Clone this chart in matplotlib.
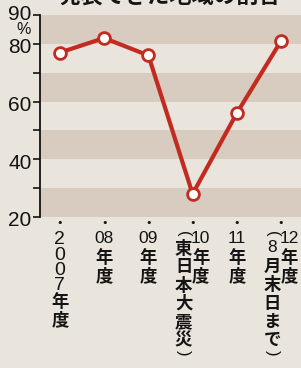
import re
import matplotlib
matplotlib.use("Agg")
import matplotlib.pyplot as plt
from matplotlib.transforms import blended_transform_factory, offset_copy

# ---- data ----
years = ["2007年度", "08年度", "09年度", "10年度", "11年度", "12年度"]
notes = ["", "", "", "東日本大震災", "", "8月末日まで"]
values = [77, 82, 76, 28, 56, 81]
yticks = [20, 40, 60, 80, 90]
title = "発表できた地域の割合"

W, H, DPI = 301, 368, 100
LIGHT = "#e9e4dc"
DARK = "#d7ccbf"
RED = "#c32a20"
INK = "#141414"
CJK = ["Noto Sans CJK JP", "DejaVu Sans"]
NUM = ["Liberation Sans", "DejaVu Sans"]

fig = plt.figure(figsize=(W / DPI, H / DPI), dpi=DPI, facecolor=LIGHT)
ax_left, ax_right = 40 / W, 1.0
ax_top_px, ax_bot_px = 15, 217
ax = fig.add_axes([ax_left, (H - ax_bot_px) / H, ax_right - ax_left,
                   (ax_bot_px - ax_top_px) / H])
ax.set_facecolor(LIGHT)

for lo in range(20, 90, 20):
    ax.axhspan(lo, lo + 10, color=DARK, lw=0, zorder=0)

x = list(range(len(values)))
ax.plot(x, values, color=RED, lw=3.0, zorder=3, solid_joinstyle="round",
        marker="o", markersize=8.5, markerfacecolor="white",
        markeredgecolor=RED, markeredgewidth=2.0)

ax.set_xlim(-0.45, 5.45)
ax.set_ylim(20, 90)
for s in ["top", "right", "bottom"]:
    ax.spines[s].set_visible(False)
ax.spines["left"].set_linewidth(1.3)
ax.spines["left"].set_color(INK)
ax.set_yticks(range(20, 91, 10))
ax.set_yticklabels([str(v) if v in yticks else "" for v in range(20, 91, 10)],
                   fontfamily=NUM, fontsize=15, color=INK)
ax.tick_params(axis="y", direction="out", length=5, width=1.2, pad=1,
               color=INK)
ax.set_xticks([])
# as in the print: 90 sits a little high, the others a little low
for lab, v in zip(ax.get_yticklabels(), range(20, 91, 10)):
    dy = 3 if v == 90 else -2
    lab.set_transform(offset_copy(lab.get_transform(), fig=fig, x=0, y=dy,
                                  units="dots"))

# percent sign under the 90 label
fig.text(24 / W, 1 - 30 / H, "%", fontfamily=NUM, fontsize=11.5,
         ha="center", va="center", color=INK)

# title (cut off by the top edge, as in the print)
fig.text(170 / W, 1 - 3 / H, title, fontfamily=CJK, fontsize=16,
         fontweight="bold", ha="center", va="baseline", color=INK)

# vertical category labels
base = blended_transform_factory(ax.transData, ax.transAxes)


def tokens(s):
    out = []
    for m in re.finditer(r"\d+|.", s):
        t = m.group(0)
        if t.isdigit() and len(t) > 2:
            out.extend([(c, "digit") for c in t])
        elif t.isdigit():
            out.append((t, "tcy"))
        elif t in "()":
            out.append((t, "paren"))
        else:
            out.append((t, "cjk"))
    return out


PITCH = {"digit": 15.5, "tcy": 18, "paren": 9, "cjk": 18.3}


def draw_column(xi, dx, text, start=14):
    y = start
    for t, kind in tokens(text):
        tr = offset_copy(base, fig=fig, x=dx, y=-y, units="dots")
        if kind == "paren":
            ax.text(xi, 0, t, transform=tr, rotation=-90, ha="center",
                    va="top", fontfamily=NUM, fontsize=12, color=INK)
        elif kind in ("digit", "tcy"):
            ax.text(xi, 0, t, transform=tr, ha="center", va="top",
                    fontfamily=NUM, fontsize=14 if kind == "digit" else 12.5,
                    color=INK)
        else:
            ax.text(xi, 0, t, transform=tr, ha="center", va="top",
                    fontfamily=CJK, fontsize=12.5, fontweight="bold",
                    color=INK)
        y += PITCH[kind]


for i, (yr, nt) in enumerate(zip(years, notes)):
    dot = offset_copy(base, fig=fig, x=0, y=-6, units="dots")
    ax.text(i, 0, "•", transform=dot, ha="center", va="center",
            fontfamily="DejaVu Sans", fontsize=8, color=INK)
    if nt:
        draw_column(i, 8, yr)
        draw_column(i, -9, "(" + nt + ")")
    else:
        draw_column(i, 0, yr)

fig.savefig("out.png", dpi=DPI, facecolor=LIGHT)
